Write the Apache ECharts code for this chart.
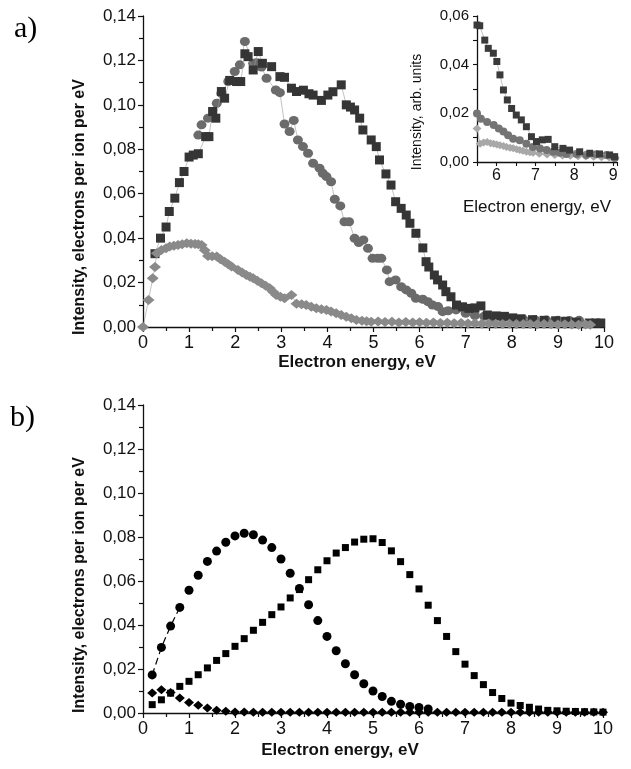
<!DOCTYPE html>
<html>
<head>
<meta charset="utf-8">
<script src="https://cdn.jsdelivr.net/npm/echarts@6/dist/echarts.min.js"></script>
<style>
html,body{margin:0;padding:0;background:#fff;}
#main{width:631px;height:769px;}
</style>
</head>
<body>
<div id="main"></div>
<script>
// panel a) measured spectra, [energy eV, intensity]
var squaresA = [[0.26,0.033],[0.38,0.040],[0.50,0.045],[0.57,0.052],[0.69,0.058],[0.79,0.065],[0.89,0.070],[1.00,0.0765],[1.09,0.0774],[1.20,0.078],[1.36,0.0857],[1.43,0.0857],[1.51,0.097],[1.58,0.094],[1.70,0.106],[1.77,0.103],[1.88,0.111],[2.03,0.1105],[2.12,0.1105],[2.21,0.123],[2.28,0.1217],[2.39,0.1157],[2.50,0.124],[2.59,0.1187],[2.79,0.1172],[2.97,0.1127],[3.07,0.1124],[3.22,0.1075],[3.33,0.106],[3.48,0.1066],[3.60,0.105],[3.69,0.1044],[3.87,0.102],[4.01,0.1044],[4.12,0.1059],[4.30,0.109],[4.41,0.100],[4.50,0.099],[4.59,0.0977],[4.70,0.094],[4.77,0.0887],[4.95,0.0842],[5.06,0.0812],[5.13,0.0752],[5.27,0.0689],[5.38,0.0639],[5.48,0.0564],[5.60,0.0534],[5.71,0.0504],[5.79,0.0467],[5.92,0.0422],[6.07,0.0356],[6.14,0.0294],[6.20,0.027],[6.32,0.0234],[6.39,0.0212],[6.50,0.0189],[6.57,0.0159],[6.68,0.0136],[6.80,0.0099],[6.93,0.0091],[7.07,0.0084],[7.20,0.0086],[7.33,0.0095],[7.47,0.0054],[7.66,0.005],[7.84,0.0048],[8.02,0.0041],[8.20,0.0037],[8.45,0.0033],[8.70,0.003],[8.95,0.0028],[9.17,0.0026],[9.40,0.0022],[9.68,0.0018],[9.82,0.0018],[9.93,0.0018]];
var circlesA = [[1.20,0.0864],[1.27,0.091],[1.41,0.094],[1.60,0.1007],[1.70,0.1052],[1.85,0.1105],[1.99,0.115],[2.10,0.118],[2.21,0.1285],[2.39,0.1187],[2.46,0.119],[2.57,0.117],[2.68,0.112],[2.88,0.1067],[2.97,0.1055],[3.07,0.0914],[3.18,0.088],[3.27,0.093],[3.36,0.0842],[3.47,0.0812],[3.58,0.0782],[3.69,0.0737],[3.83,0.0715],[3.90,0.0692],[3.98,0.0677],[4.08,0.0654],[4.16,0.0575],[4.28,0.0545],[4.37,0.0474],[4.47,0.0474],[4.59,0.0399],[4.68,0.038],[4.78,0.0392],[4.88,0.0354],[4.98,0.0309],[5.09,0.0309],[5.17,0.0309],[5.29,0.0257],[5.35,0.0204],[5.48,0.0212],[5.60,0.0181],[5.71,0.0167],[5.82,0.0152],[5.92,0.0129],[6.07,0.0125],[6.18,0.0114],[6.28,0.0099],[6.40,0.0092],[6.50,0.0069],[6.62,0.0073],[6.79,0.0077],[7.00,0.0062],[7.20,0.0052],[7.40,0.0048],[7.60,0.0042],[7.80,0.004],[8.00,0.0037],[8.25,0.0035],[8.50,0.0033],[8.75,0.0031],[9.00,0.003],[9.25,0.0029],[9.46,0.003]];
var diamondsA = [[0,0],[0.12,0.0122],[0.21,0.0219],[0.26,0.027],[0.30,0.0332],[0.40,0.0347],[0.50,0.0355],[0.58,0.0362],[0.67,0.0366],[0.76,0.0369],[0.85,0.0373],[0.95,0.0377],[1.04,0.0375],[1.13,0.0374],[1.20,0.0372],[1.27,0.0369],[1.34,0.0345],[1.41,0.032],[1.50,0.0319],[1.60,0.0317],[1.68,0.0305],[1.77,0.0294],[1.85,0.0283],[1.92,0.0272],[2.06,0.0257],[2.15,0.0245],[2.24,0.0234],[2.32,0.0226],[2.39,0.0219],[2.48,0.0208],[2.57,0.0197],[2.66,0.0186],[2.75,0.0174],[2.82,0.0159],[2.89,0.0144],[2.98,0.0136],[3.07,0.0129],[3.22,0.0144],[3.33,0.0105],[3.44,0.0102],[3.54,0.0099],[3.65,0.0091],[3.76,0.0084],[3.87,0.008],[3.98,0.0077],[4.08,0.007],[4.19,0.0062],[4.30,0.0054],[4.41,0.0046],[4.52,0.0039],[4.63,0.0032],[4.75,0.0028],[4.85,0.0026],[4.95,0.0024],[5.10,0.0025],[5.25,0.0022],[5.40,0.0024],[5.55,0.002],[5.70,0.0022],[5.85,0.002],[6.00,0.0021],[6.15,0.0019],[6.30,0.002],[6.45,0.0018],[6.60,0.0019],[6.75,0.0017],[6.90,0.0018],[7.05,0.0016],[7.20,0.0017],[7.35,0.0015],[7.50,0.0016],[7.65,0.0015],[7.80,0.0014],[7.95,0.0015],[8.10,0.0013],[8.25,0.0014],[8.40,0.0013],[8.55,0.0012],[8.70,0.0013],[8.85,0.0012],[9.00,0.0011],[9.15,0.0012],[9.30,0.0011],[9.45,0.001],[9.60,0.0011],[9.70,0.001]];

// inset of panel a)
var squaresIn = [[5.50,0.0563],[5.57,0.056],[5.70,0.0501],[5.79,0.0467],[5.92,0.0447],[6.01,0.0413],[6.09,0.0358],[6.18,0.0296],[6.28,0.0255],[6.39,0.022],[6.51,0.0193],[6.64,0.0173],[6.77,0.0145],[6.90,0.0104],[7.03,0.0084],[7.18,0.0091],[7.33,0.0093],[7.50,0.0063],[7.71,0.0056],[7.88,0.0049],[8.14,0.0042],[8.40,0.0036],[8.65,0.0033],[8.91,0.0029],[9.04,0.0022]];
var circlesIn = [[5.50,0.0199],[5.60,0.0178],[5.76,0.0164],[5.93,0.0152],[6.06,0.0138],[6.18,0.0125],[6.30,0.011],[6.43,0.0096],[6.60,0.0089],[6.77,0.0075],[6.94,0.0062],[7.12,0.0055],[7.29,0.0049],[7.46,0.0042],[7.63,0.0038],[7.80,0.0033],[8.06,0.0033],[8.31,0.0029],[8.57,0.0032],[8.83,0.0029],[9.04,0.0016]];
var diamondsIn = [[5.50,0.0138],[5.58,0.0075],[5.67,0.008],[5.76,0.0082],[5.85,0.0077],[5.93,0.0075],[6.01,0.0072],[6.09,0.0069],[6.18,0.0066],[6.26,0.0062],[6.35,0.0059],[6.43,0.0056],[6.52,0.0052],[6.60,0.0049],[6.68,0.0046],[6.77,0.0042],[6.86,0.004],[6.94,0.0038],[7.10,0.0034],[7.30,0.0031],[7.50,0.0029],[7.70,0.0027],[7.90,0.0026],[8.10,0.0024],[8.30,0.0023],[8.50,0.0022],[8.70,0.002],[8.90,0.0019],[9.05,0.0016]];

// panel b) calculated, common energy grid
var energyB = [0.2,0.4,0.6,0.8,1.0,1.2,1.4,1.6,1.8,2.0,2.2,2.4,2.6,2.8,3.0,3.2,3.4,3.6,3.8,4.0,4.2,4.4,4.6,4.8,5.0,5.2,5.4,5.6,5.8,6.0,6.2,6.4,6.6,6.8,7.0,7.2,7.4,7.6,7.8,8.0,8.2,8.4,8.6,8.8,9.0,9.2,9.4,9.6,9.8,10.0];
var circlesB = [0.0173,0.0298,0.0395,0.048,0.0558,0.0626,0.0689,0.0736,0.0776,0.0805,0.0817,0.081,0.0786,0.0752,0.070,0.0635,0.0566,0.0492,0.042,0.0348,0.0283,0.0224,0.0174,0.0133,0.0100,0.0075,0.0053,0.0040,0.0030,0.0025,0.0018];
var squaresB = [0.0038,0.006,0.009,0.0121,0.0144,0.0174,0.0205,0.0239,0.027,0.0303,0.0338,0.0376,0.0412,0.0447,0.0482,0.0523,0.0561,0.0606,0.0651,0.0692,0.0727,0.0752,0.0777,0.079,0.0792,0.0775,0.0737,0.0688,0.0629,0.0564,0.049,0.042,0.0348,0.0279,0.0222,0.017,0.0129,0.0093,0.0066,0.0045,0.0034,0.0026,0.0018,0.0012,0.001,0.0008,0.0007,0.0006,0.0005,0.0004];
var diamondsB = [0.0091,0.0106,0.0093,0.0068,0.0048,0.0035,0.0023,0.0013,0.0008,0.0005,0.0004,0.0003,0.0003,0.0003,0.0003,0.0003,0.0003,0.0003,0.0003,0.0003,0.0003,0.0003,0.0003,0.0003,0.0003,0.0003,0.0003,0.0003,0.0003,0.0003,0.0003,0.0003,0.0003,0.0003,0.0003,0.0003,0.0003,0.0003,0.0003,0.0003,0.0003,0.0003,0.0003,0.0003,0.0003,0.0003,0.0003,0.0003,0.0003,0.0003];
var dashedCount = 4; // circles joined by the dashed line at low energy

var yTicksMain = [0, 0.14, 0.02];
var xTicksMain = [0, 10, 1];
var yTicksIn = [0, 0.06, 0.02];
var xTicksIn = [5.5, 9.1, 0.5];

function pairs(xs, ys){
	var out = [];
	for (var i = 0; i < ys.length; i++) out.push([xs[i], ys[i]]);
	return out;
}
function comma(v){ return v.toFixed(2).replace('.', ','); }

var axisLine = {lineStyle:{color:'#111', width:1.3}};
var txt = {color:'#111', fontFamily:'Liberation Sans, Arial, sans-serif'};

function xAxisMain(gi){
	return {
		type:'value', gridIndex:gi, min:xTicksMain[0], max:xTicksMain[1], interval:xTicksMain[2],
		axisLine:axisLine, splitLine:{show:false},
		axisTick:{inside:false, length:5, lineStyle:{color:'#111', width:1.2}},
		minorTick:{show:true, splitNumber:2, length:4, lineStyle:{color:'#111', width:1.2}},
		axisLabel:Object.assign({fontSize:18, margin:7, formatter:function(v){return String(v);}}, txt)
	};
}
function yAxisMain(gi){
	return {
		type:'value', gridIndex:gi, min:yTicksMain[0], max:yTicksMain[1], interval:yTicksMain[2],
		axisLine:Object.assign({show:true}, axisLine), splitLine:{show:false},
		axisTick:{show:true, inside:false, length:5, lineStyle:{color:'#111', width:1.2}},
		minorTick:{show:true, splitNumber:2, length:4, lineStyle:{color:'#111', width:1.2}},
		axisLabel:Object.assign({fontSize:17, margin:7, formatter:comma}, txt)
	};
}

function scatterLine(xi, yi, data, symbol, size, color, z){
	return {
		type:'line', xAxisIndex:xi, yAxisIndex:yi, data:data, symbol:symbol, symbolSize:size,
		showSymbol:true, z:z, animation:false,
		itemStyle:{color:color, opacity:1},
		lineStyle:{color:'#999', width:0.6}
	};
}
function scatter(xi, yi, data, symbol, size, color, z){
	return {
		type:'scatter', xAxisIndex:xi, yAxisIndex:yi, data:data, symbol:symbol, symbolSize:size,
		z:z, animation:false, itemStyle:{color:color, opacity:1}
	};
}

var titleFont = 'bold 16px "Liberation Sans", Arial, sans-serif';
var energyFont = 'bold 17px "Liberation Sans", Arial, sans-serif';

var myChart = echarts.init(document.getElementById('main'), null, {renderer:'canvas'});
var option = {
	backgroundColor:'#fff',
	animation:false,
	grid:[
		{left:143, top:16, width:461, height:311},
		{left:143, top:405, width:460, height:308},
		{left:477, top:16, width:140, height:146, backgroundColor:'#fff', show:true, borderWidth:0, z:5}
	],
	xAxis:[
		xAxisMain(0),
		xAxisMain(1),
		{
			type:'value', gridIndex:2, min:xTicksIn[0], max:xTicksIn[1], interval:xTicksIn[2],
			axisLine:axisLine, splitLine:{show:false}, z:6,
			axisTick:{inside:false, length:4, lineStyle:{color:'#111', width:1.1}},
			axisLabel:Object.assign({fontSize:16, margin:6, formatter:function(v){
				return Math.abs(v - Math.round(v)) < 1e-6 ? String(Math.round(v)) : '';
			}}, txt)
		}
	],
	yAxis:[
		yAxisMain(0),
		yAxisMain(1),
		{
			type:'value', gridIndex:2, min:yTicksIn[0], max:yTicksIn[1], interval:yTicksIn[2], z:6,
			axisLine:Object.assign({show:true}, axisLine), splitLine:{show:false},
			axisTick:{show:true, inside:false, length:4, lineStyle:{color:'#111', width:1.1}},
			minorTick:{show:true, splitNumber:2, length:4, lineStyle:{color:'#111', width:1.1}},
			axisLabel:Object.assign({fontSize:15, margin:8, formatter:comma}, txt)
		}
	],
	series:[
		// a)
		scatterLine(0, 0, circlesA, 'circle', [10, 9], '#6b6b6b', 2),
		scatterLine(0, 0, squaresA, 'rect', 9, '#353535', 3),
		scatterLine(0, 0, diamondsA, 'diamond', [12, 10], '#8a8a8a', 4),
		// inset
		scatterLine(2, 2, diamondsIn, 'diamond', [9, 8], '#a8a8a8', 6),
		scatterLine(2, 2, circlesIn, 'circle', 8, '#747474', 7),
		scatterLine(2, 2, squaresIn, 'rect', 7, '#3a3a3a', 8),
		// b)
		{
			type:'line', xAxisIndex:1, yAxisIndex:1, data:pairs(energyB, circlesB.slice(0, dashedCount)),
			showSymbol:false, symbol:'none', animation:false, z:2,
			lineStyle:{color:'#000', width:1.2, type:[7, 4]}
		},
		scatter(1, 1, pairs(energyB, circlesB), 'circle', 9, '#000', 3),
		scatter(1, 1, pairs(energyB, squaresB), 'rect', 7, '#000', 3),
		scatter(1, 1, pairs(energyB, diamondsB), 'diamond', [10, 9], '#000', 4)
	],
	graphic:[
		{type:'text', left:14, top:14, style:{text:'a)', font:'30px "Liberation Serif", "Times New Roman", serif', fill:'#000'}},
		{type:'text', left:10, top:403, style:{text:'b)', font:'30px "Liberation Serif", "Times New Roman", serif', fill:'#000'}},
		{type:'text', x:80, y:207, rotation:Math.PI/2, style:{text:'Intensity, electrons per ion per eV', font:titleFont, fill:'#111', align:'center', verticalAlign:'middle'}},
		{type:'text', x:80, y:585, rotation:Math.PI/2, style:{text:'Intensity, electrons per ion per eV', font:titleFont, fill:'#111', align:'center', verticalAlign:'middle'}},
		{type:'text', x:357, y:362, style:{text:'Electron energy, eV', font:energyFont, fill:'#111', align:'center', verticalAlign:'middle'}},
		{type:'text', x:340, y:750, style:{text:'Electron energy, eV', font:energyFont, fill:'#111', align:'center', verticalAlign:'middle'}},
		{type:'text', x:417, y:112, rotation:Math.PI/2, z:10, style:{text:'Intensity, arb. units', font:'14px "Liberation Sans", Arial, sans-serif', fill:'#111', align:'center', verticalAlign:'middle'}},
		{type:'text', x:537, y:207, z:10, style:{text:'Electron energy, eV', font:'17px "Liberation Sans", Arial, sans-serif', fill:'#111', align:'center', verticalAlign:'middle'}}
	]
};
myChart.setOption(option);
window.addEventListener('resize', function(){ myChart.resize(); });
</script>
</body>
</html>
